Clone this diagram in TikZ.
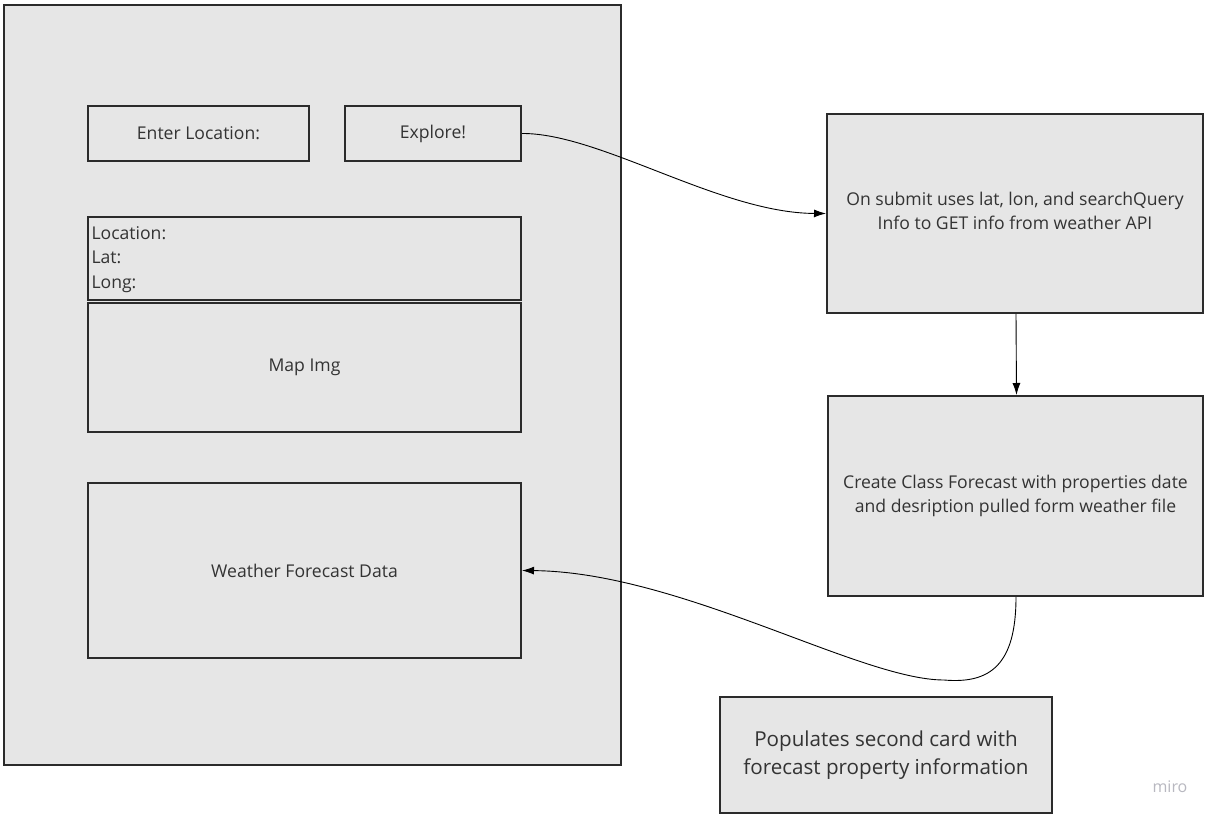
\documentclass[tikz,border=0pt]{standalone}
\usepackage{fontspec}
\setmainfont{Open Sans}
\usetikzlibrary{arrows.meta}
\definecolor{cardfill}{HTML}{E6E6E6}
\definecolor{edge}{HTML}{2B2B2B}
\definecolor{ink}{HTML}{333333}
\definecolor{brandgray}{HTML}{B8B8C0}
\tikzset{
  panel/.style={draw=edge, line width=2pt, fill=cardfill, inner sep=0pt, text=ink,
    font=\fontsize{17.6}{24}\selectfont, align=center},
  flow/.style={draw=black, line width=0.9pt, -{Latex[length=12pt,width=8pt]}}
}
\begin{document}
\begin{tikzpicture}[x=1pt,y=-1pt]
  \fill[white] (0,0) rectangle (1216,821);
  \useasboundingbox (0,0) rectangle (1216,821);

  % page card on the left
  \draw[edge, line width=2pt, fill=cardfill] (4,5) rectangle (621,765);

  \node[panel, minimum width=221pt, minimum height=55pt] (enter) at (198.5,133.5) {Enter Location:};
  \node[panel, minimum width=176pt, minimum height=55pt] (explore) at (433,133.5) {Explore!};

  \node[panel, minimum width=433pt, minimum height=83pt, text width=426pt, align=left,
        inner xsep=3.5pt, font=\fontsize{17.6}{24.5}\selectfont] (loc) at (304.5,258.5)
        {\rule{0pt}{15pt}Location:\\Lat:\\Long:};
  \node[panel, minimum width=433pt, minimum height=129pt] (map) at (304.5,367.5) {Map Img};
  \node[panel, minimum width=433pt, minimum height=175pt] (wfd) at (304.5,570.5) {Weather Forecast Data};

  % process boxes on the right
  \node[panel, minimum width=376pt, minimum height=199pt] (api) at (1015,213.5)
        {On submit uses lat, lon, and searchQuery\\Info to GET info from weather API\rule[-5pt]{0pt}{5pt}};
  \node[panel, minimum width=375pt, minimum height=200pt] (cls) at (1015.5,496)
        {Create Class Forecast with properties date\\and desription pulled form weather file\rule[-4pt]{0pt}{4pt}};
  \node[panel, minimum width=332pt, minimum height=116pt, font=\fontsize{20.6}{28}\selectfont] (pop) at (886,755)
        {Populates second card with\\forecast property information};

  \node[text=brandgray, font=\fontsize{16}{18}\selectfont] (brand) at (1170,787) {miro};

  % connectors
  \draw[flow] (explore.east) .. controls (600,133) and (720,213) .. (api.west);
  \draw[flow] ([xshift=1pt]api.south) -- ([xshift=1pt]cls.north);
  \coordinate (dip) at (944,680);
  \draw[flow] ([xshift=0.5pt]cls.south) .. controls (1016,665) and (990,684) .. (dip)
        .. controls (860,680) and (680,572) .. (wfd.east);
\end{tikzpicture}
\end{document}
